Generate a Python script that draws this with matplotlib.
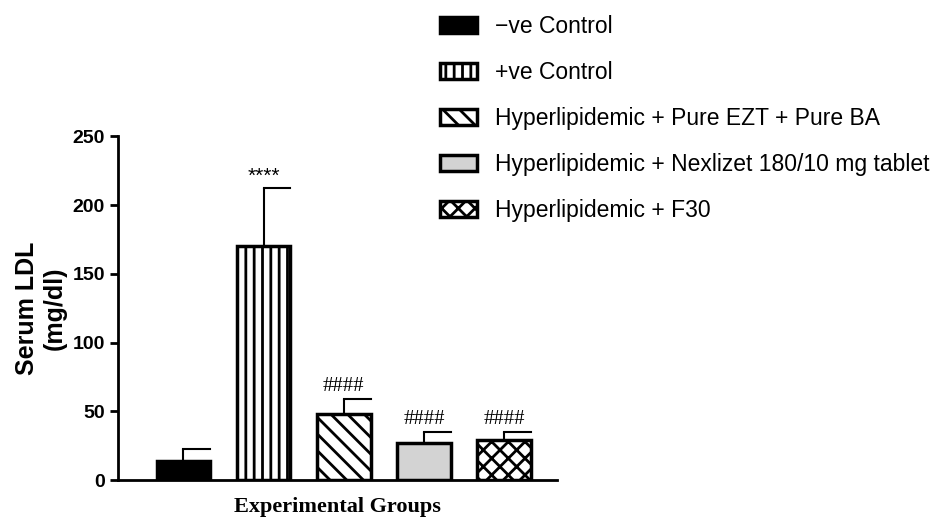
import matplotlib
matplotlib.use('Agg')
import matplotlib.pyplot as plt
import numpy as np

groups = ['\u2212ve Control', '+ve Control', 'Hyperlipidemic + Pure EZT + Pure BA',
          'Hyperlipidemic + Nexlizet 180/10 mg tablet', 'Hyperlipidemic + F30']
means = [14, 170, 48, 27, 29]
errs = [9, 42, 11, 8, 6]
marks = ['', '****', '####', '####', '####']

faces = ['black', 'white', 'white', '#d3d3d3', 'white']
hatches = [None, '||', '\\\\', None, 'xx']

plt.rcParams['font.family'] = ['Liberation Sans', 'DejaVu Sans']
plt.rcParams['hatch.linewidth'] = 2.0

fig = plt.figure(figsize=(9.53, 5.3), dpi=100)
ax = fig.add_axes([0.124, 0.094, 0.46, 0.649])

x = np.arange(len(means)) * 1.5
bars = ax.bar(x, means, width=1.0, color=faces, edgecolor='black', linewidth=2.5,
              yerr=[np.zeros(len(errs)), errs], capsize=0,
              error_kw=dict(elinewidth=1.5, capthick=1.5), zorder=2)
for b, h in zip(bars, hatches):
    if h:
        b.set_hatch(h)
for xi, m, e, t in zip(x, means, errs, marks):
    if t:
        fam = 'Liberation Sans' if t.startswith('*') else 'Liberation Serif'
        ax.text(xi, m + e + 2, t, ha='center', va='bottom', fontsize=15, family=fam)
# errorbar caps
for xi, m, e in zip(x, means, errs):
    ax.plot([xi, xi + 0.5], [m + e, m + e], color='black', lw=1.5)

ax.set_ylim(0, 250)
ax.set_xlim(-1.22, 6.98)
ax.set_yticks([0, 50, 100, 150, 200, 250])
ax.set_xticks([])
ax.spines['top'].set_visible(False)
ax.spines['right'].set_visible(False)
ax.spines['left'].set_linewidth(2)
ax.spines['bottom'].set_linewidth(2)
ax.tick_params(axis='y', width=2, length=6, labelsize=14)
for lbl in ax.get_yticklabels():
    lbl.set_fontweight('bold')
ax.set_ylabel('Serum LDL\n(mg/dl)', fontsize=18, fontweight='bold')
ax.set_xlabel('Experimental Groups', fontsize=16, fontweight='bold', family='Liberation Serif', labelpad=12)

fig.legend(bars, groups, loc='upper left', bbox_to_anchor=(0.44, 1.01), frameon=False,
           fontsize=16.5, handlelength=1.6, handleheight=0.7, labelspacing=1.0)

fig.savefig('out.png', dpi=100)
